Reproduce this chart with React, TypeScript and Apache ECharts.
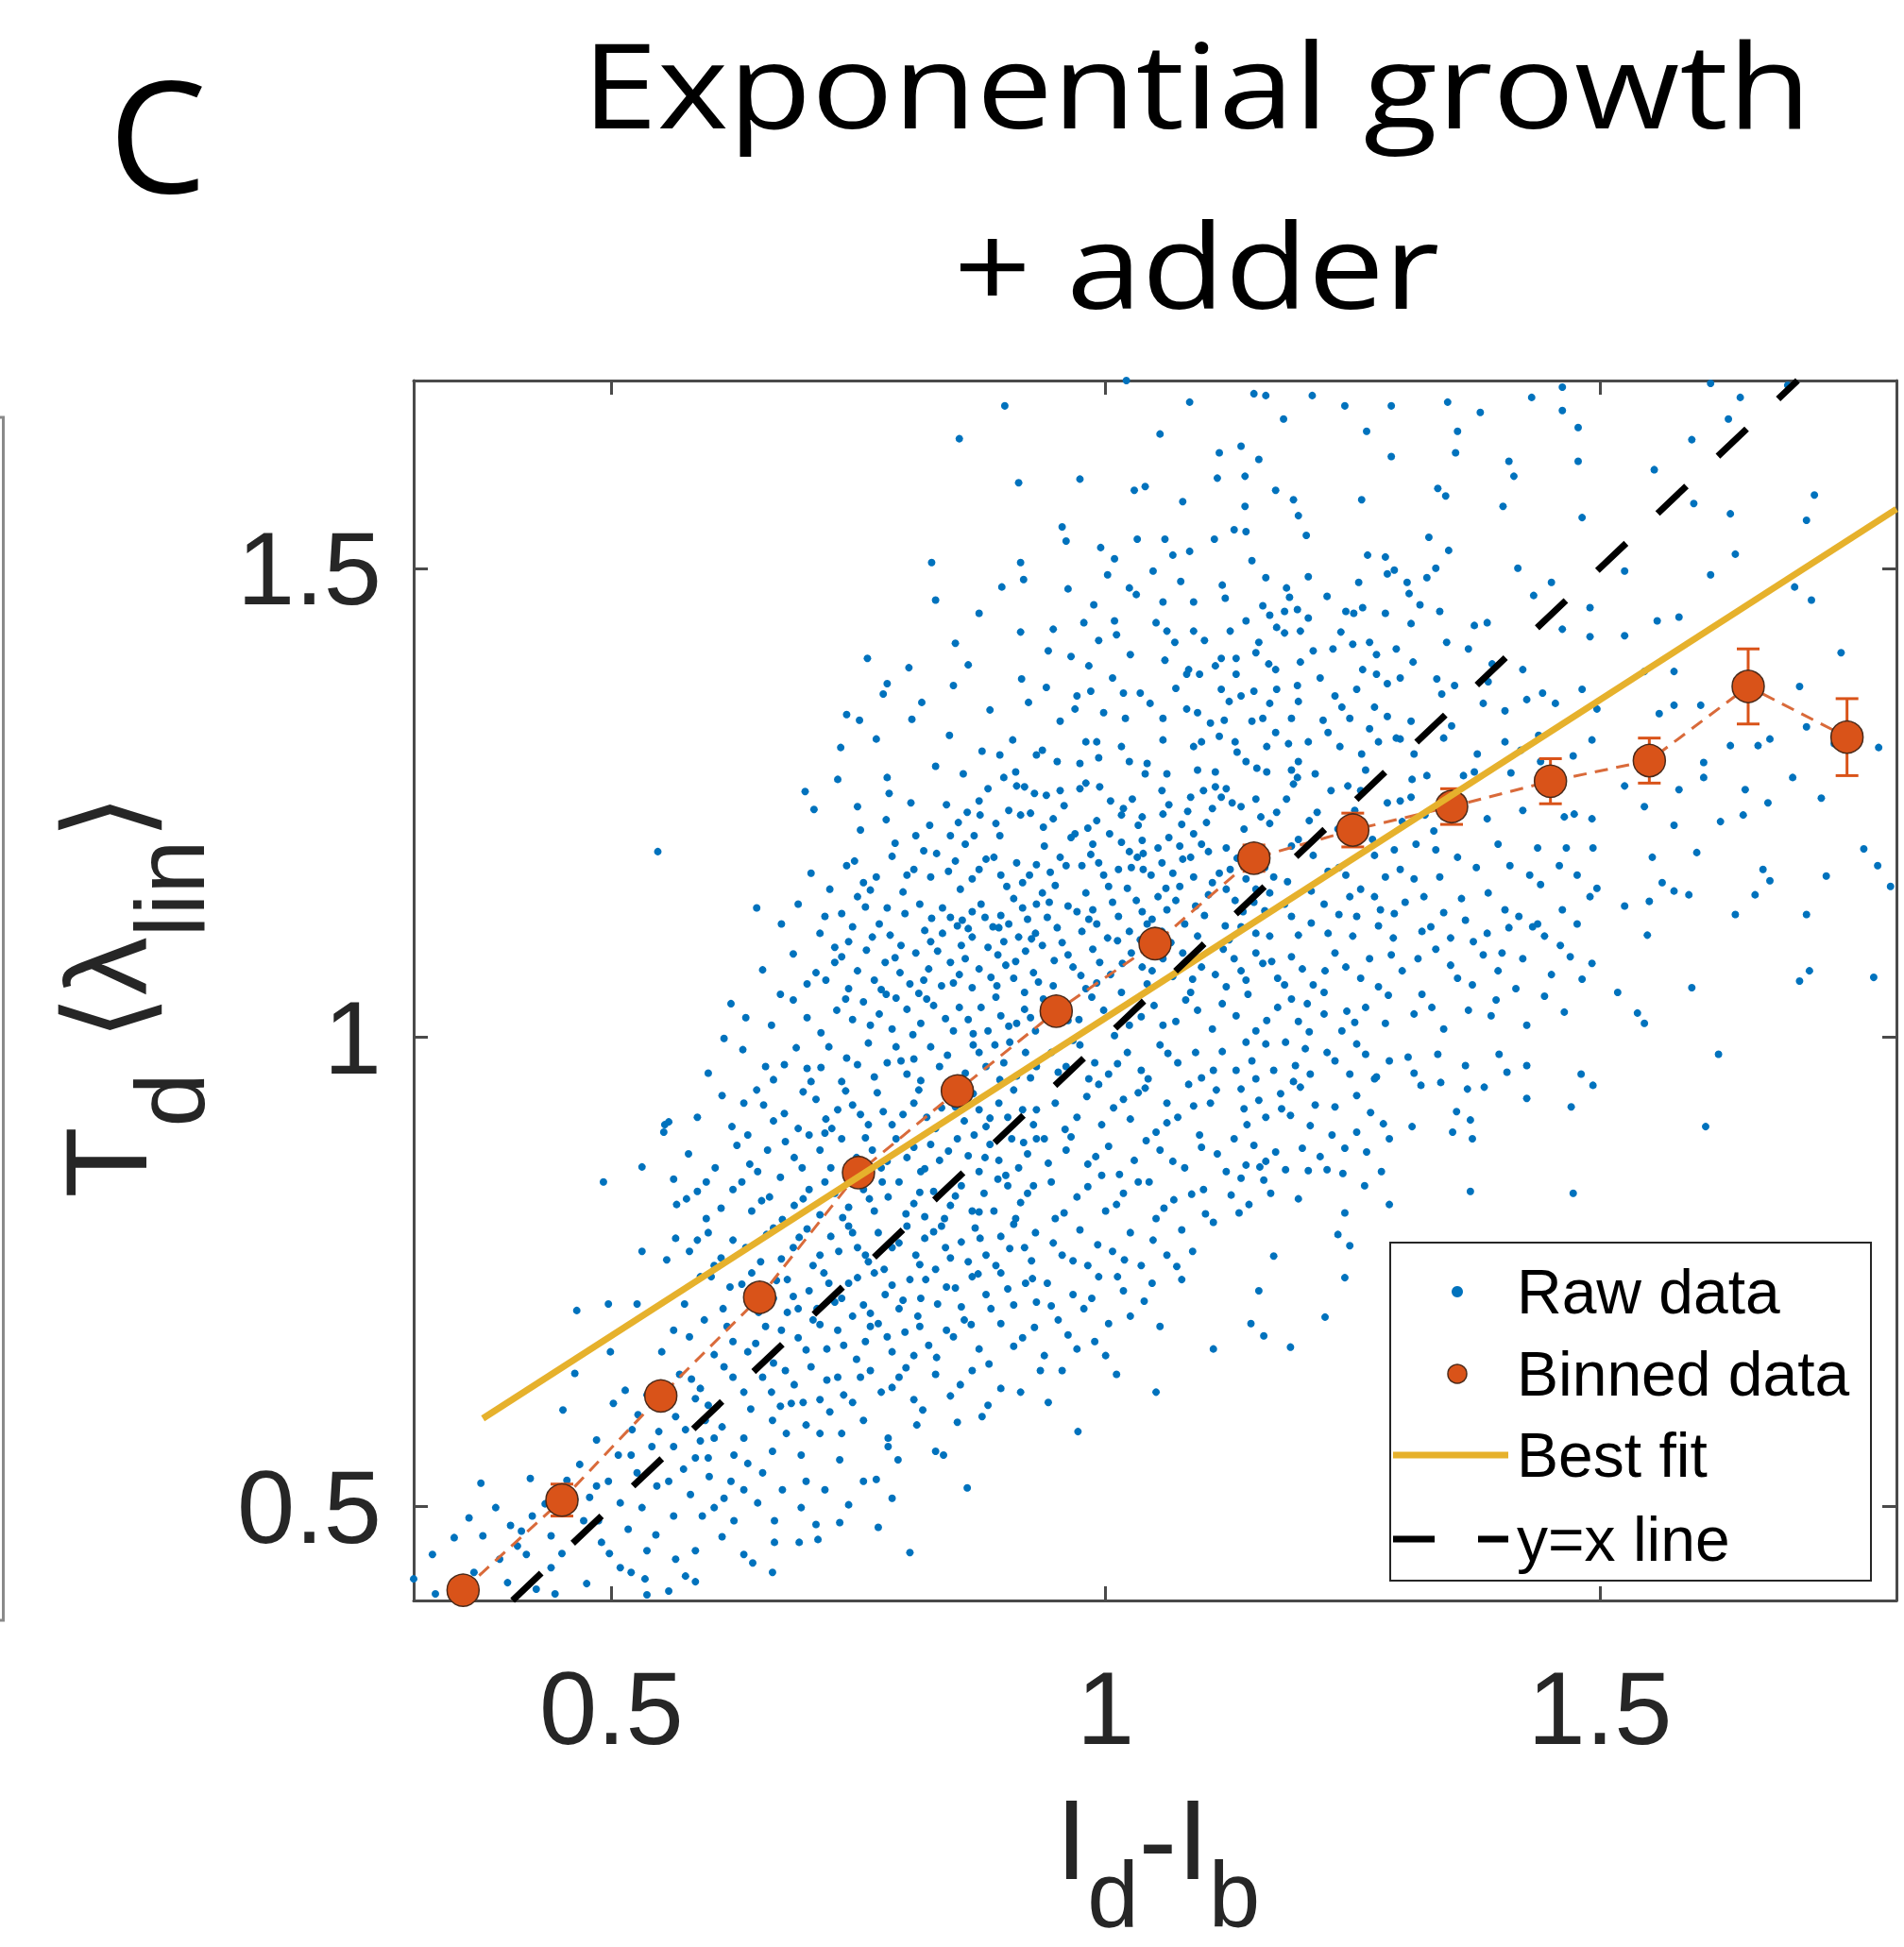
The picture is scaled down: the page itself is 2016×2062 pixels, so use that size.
import React, { useEffect, useRef } from "react";
import * as echarts from "echarts";

// ---------------- data ----------------
const X_MIN = 0.3;
const X_MAX = 1.8;
const Y_MIN = 0.4;
const Y_MAX = 1.7;
const X_TICKS = [0.5, 1, 1.5];
const Y_TICKS = [0.5, 1, 1.5];

const BIN_X = [0.35, 0.45, 0.55, 0.65, 0.75, 0.85, 0.95, 1.05, 1.15, 1.25, 1.35, 1.45, 1.55, 1.65, 1.75];
const BIN_Y = [0.411, 0.507, 0.618, 0.723, 0.856, 0.943, 1.028, 1.1, 1.191, 1.221, 1.246, 1.273, 1.295, 1.374, 1.32];
const BIN_ERR = [0.008, 0.017, 0.01, 0.009, 0.009, 0.009, 0.01, 0.012, 0.014, 0.018, 0.019, 0.024, 0.024, 0.04, 0.041];

const FIT_X = [0.37, 1.8];
const FIT_Y = [0.594, 1.563];
const IDENTITY_XY = [0.4, 1.7];

const LEGEND_LABELS = ["Raw data", "Binned data", "Best fit", "y=x line"];

// raw data, flat [x, y, x, y, ...] lists read region by region
const RAW_TOP_LEFT = [
  0.898,1.673, 0.852,1.638, 0.912,1.591, 0.824,1.506, 0.914,1.506, 0.917,1.488, 0.895,1.48, 0.914,1.432,
  0.848,1.42, 0.759,1.404, 0.801,1.394, 0.861,1.397, 0.915,1.382, 0.846,1.375, 0.779,1.377, 0.775,1.366,
  0.814,1.357, 0.804,1.339, 0.738,1.344, 0.751,1.338, 0.906,1.317, 0.893,1.301, 0.93,1.301, 0.729,1.275,
  0.779,1.277, 0.781,1.26, 0.803,1.25, 0.749,1.246, 0.705,1.243, 0.881,1.265, 0.897,1.277, 0.909,1.283,
  0.91,1.268, 0.918,1.267, 0.928,1.26, 0.86,1.24, 0.873,1.237, 0.889,1.228, 0.902,1.242, 0.914,1.237,
  0.924,1.239, 0.547,1.198, 0.787,1.207, 0.808,1.215, 0.816,1.199, 0.843,1.215, 0.858,1.206, 0.867,1.215,
];

const RAW_TOP_BAND = [
  1.021,1.7, 1.055,1.643, 1.15,1.686, 1.162,1.684, 1.209,1.684, 1.085,1.677, 1.242,1.673, 1.289,1.673,
  1.346,1.677, 1.379,1.666, 1.431,1.682, 1.462,1.693, 1.462,1.668, 1.612,1.697, 1.642,1.682, 1.69,1.695,
  1.18,1.659, 1.264,1.646, 1.356,1.646, 1.478,1.65, 1.63,1.659, 1.593,1.637, 1.115,1.623, 1.137,1.63,
  1.155,1.616, 1.289,1.619, 1.354,1.623, 1.408,1.614, 1.478,1.614, 1.555,1.605,
];

const RAW_UPPER_MID = [
  0.974,1.595, 1.029,1.583, 1.04,1.587, 1.113,1.596, 1.141,1.598, 1.141,1.566, 1.172,1.583, 1.19,1.573,
  1.259,1.573, 1.336,1.585, 1.344,1.577, 1.413,1.598, 1.402,1.566, 1.482,1.554, 1.078,1.571,
  0.956,1.544, 0.96,1.529, 1.06,1.531, 1.068,1.514, 1.11,1.531, 1.13,1.541, 1.142,1.539, 1.195,1.556,
  1.203,1.535, 1.327,1.533, 1.347,1.519, 1.009,1.51, 1.265,1.514, 1.283,1.512,
  1.002,1.493, 1.024,1.479, 1.058,1.464, 1.089,1.464, 1.205,1.491, 1.183,1.479, 1.186,1.469, 1.256,1.485,
  1.285,1.494, 1.292,1.498, 1.305,1.485, 1.307,1.473, 1.325,1.49, 1.334,1.5, 1.417,1.5, 1.451,1.485,
  1.433,1.471, 1.49,1.458, 1.338,1.454, 1.159,1.46, 1.166,1.45, 1.181,1.454, 1.194,1.456, 1.205,1.447,
  0.947,1.435, 0.978,1.442, 1.009,1.444, 1.011,1.429, 1.051,1.442, 1.062,1.433, 1.089,1.433, 1.1,1.423,
  1.126,1.433, 1.142,1.444, 1.155,1.421, 1.173,1.437, 1.181,1.431, 1.197,1.433, 1.243,1.454, 1.251,1.452,
  1.26,1.458, 1.23,1.414, 1.25,1.419, 1.267,1.421, 1.274,1.408, 1.294,1.414, 1.309,1.441, 1.345,1.421,
  1.367,1.414, 1.373,1.439, 1.386,1.442, 1.462,1.435, 1.49,1.427, 0.965,1.406, 0.983,1.396, 0.993,1.423,
  1.06,1.402, 1.084,1.392, 1.111,1.396, 1.117,1.404, 1.132,1.404, 1.152,1.41, 1.172,1.392, 1.21,1.412,
  1.311,1.4, 1.391,1.398, 1.422,1.392,
  0.94,1.373, 0.971,1.364, 0.969,1.35, 0.985,1.369, 1.007,1.383, 1.018,1.367, 1.035,1.367, 1.082,1.387,
  1.095,1.387, 1.132,1.387, 1.117,1.371, 1.137,1.364, 1.15,1.369, 1.166,1.356, 1.173,1.371, 1.194,1.375,
  1.195,1.358, 1.217,1.383, 1.232,1.364, 1.239,1.352, 1.254,1.371, 1.274,1.387, 1.285,1.377, 1.298,1.383,
  1.353,1.375, 1.34,1.366, 1.387,1.379, 1.426,1.36, 1.442,1.367, 1.482,1.371, 1.02,1.34, 1.058,1.34,
  1.082,1.35, 1.093,1.346, 1.106,1.335, 1.159,1.34, 1.148,1.337, 1.188,1.34, 1.247,1.34, 1.285,1.342,
  1.309,1.337, 1.382,1.356, 1.404,1.348, 1.455,1.356, 1.497,1.35,
  0.936,1.306, 0.98,1.315, 0.991,1.315, 0.993,1.298, 0.974,1.292, 0.951,1.294, 1.016,1.31, 1.024,1.294,
  1.042,1.292, 1.058,1.317, 1.089,1.31, 1.097,1.315, 1.115,1.321, 1.133,1.304, 1.142,1.294, 1.131,1.315,
  1.163,1.31, 1.185,1.313, 1.195,1.294, 1.205,1.315, 1.225,1.325, 1.237,1.31, 1.259,1.302, 1.267,1.329,
  1.276,1.315, 1.294,1.319, 1.312,1.302, 1.342,1.319, 1.376,1.302, 1.404,1.315, 1.42,1.306, 1.44,1.294,
  1.492,1.317, 1.473,1.3, 1.04,1.281, 1.062,1.281, 1.093,1.285, 1.111,1.283, 1.153,1.287, 1.163,1.283,
  1.188,1.285, 1.194,1.277, 1.212,1.281, 1.263,1.285, 1.325,1.279, 1.362,1.279, 1.373,1.283,
  0.94,1.258, 0.954,1.263, 0.974,1.265, 0.98,1.271, 0.994,1.267, 1.018,1.244, 1.027,1.254, 1.057,1.263,
  1.064,1.248, 1.086,1.256, 1.099,1.263, 1.111,1.267, 1.122,1.265, 1.117,1.256, 1.128,1.25, 1.108,1.244,
  1.137,1.246, 1.152,1.254, 1.157,1.235, 1.173,1.24, 1.183,1.254, 1.206,1.231, 1.214,1.24, 1.228,1.263,
  1.252,1.242, 1.258,1.263, 1.285,1.25, 1.298,1.252, 1.309,1.256, 1.323,1.237, 1.344,1.24, 1.354,1.233,
  1.386,1.233, 1.422,1.242, 1.464,1.235, 1.474,1.238, 1.492,1.233, 0.947,1.233, 0.969,1.217, 0.991,1.231,
  1.016,1.237, 1.037,1.235, 1.077,1.227, 1.089,1.217,
];

const RAW_MID_BAND = [
  0.938,1.204, 0.965,1.213, 0.987,1.206, 1.004,1.217, 1.016,1.208, 1.024,1.198, 1.037,1.21, 1.038,1.196,
  1.053,1.202, 1.064,1.213, 1.075,1.204, 1.078,1.19, 1.097,1.206, 1.104,1.198, 1.122,1.202, 1.188,1.204,
  1.195,1.211, 1.21,1.194, 1.236,1.181, 1.272,1.194, 1.292,1.2, 1.314,1.206, 1.334,1.2, 1.356,1.192,
  1.397,1.206, 1.437,1.202, 1.466,1.202, 1.493,1.202, 0.954,1.192, 0.96,1.183, 0.976,1.183, 0.993,1.186,
  0.998,1.173, 1.013,1.179, 1.026,1.181, 1.038,1.179, 1.046,1.173, 1.057,1.186, 1.068,1.175, 1.075,1.161,
  1.089,1.171, 1.115,1.175, 1.126,1.179, 1.142,1.169, 1.161,1.181, 1.17,1.171, 1.225,1.177, 1.243,1.173,
  1.283,1.171, 1.298,1.179, 1.312,1.169, 1.338,1.171, 1.375,1.181, 1.409,1.183, 1.429,1.173, 1.44,1.163,
  1.459,1.183, 1.477,1.173, 1.497,1.159,
  0.936,1.154, 0.943,1.144, 0.962,1.14, 0.971,1.134, 0.98,1.154, 0.987,1.136, 1.007,1.144, 1.013,1.129,
  1.022,1.159, 1.031,1.146, 1.037,1.134, 1.042,1.121, 1.053,1.15, 1.062,1.136, 1.071,1.146, 1.08,1.121,
  1.091,1.14, 1.104,1.152, 1.122,1.158, 1.131,1.146, 1.139,1.134, 1.15,1.144, 1.166,1.154, 1.181,1.142,
  1.188,1.129, 1.208,1.156, 1.221,1.142, 1.236,1.131, 1.247,1.15, 1.254,1.129, 1.272,1.15, 1.278,1.136,
  1.303,1.144, 1.322,1.15, 1.342,1.133, 1.36,1.148, 1.364,1.125, 1.387,1.154, 1.404,1.136, 1.418,1.129,
  1.437,1.121, 1.462,1.136, 1.49,1.15, 0.951,1.117, 0.976,1.113, 0.991,1.121, 1.002,1.106, 1.024,1.113,
  1.035,1.104, 1.057,1.113, 1.093,1.108, 1.121,1.119, 1.125,1.104, 1.152,1.111, 1.166,1.108, 1.195,1.109,
  1.225,1.111, 1.25,1.108, 1.276,1.119, 1.291,1.106, 1.32,1.113, 1.349,1.106, 1.386,1.111, 1.408,1.117,
  1.444,1.108, 1.477,1.121,
  0.936,1.098, 0.962,1.088, 0.967,1.075, 0.987,1.094, 0.994,1.08, 1.005,1.067, 1.026,1.09, 1.037,1.075,
  1.058,1.084, 1.068,1.065, 1.078,1.09, 1.097,1.075, 1.111,1.067, 1.13,1.084, 1.137,1.071, 1.152,1.09,
  1.159,1.079, 1.174,1.063, 1.188,1.086, 1.199,1.073, 1.21,1.056, 1.232,1.09, 1.243,1.075, 1.258,1.063,
  1.267,1.084, 1.289,1.088, 1.3,1.071, 1.316,1.084, 1.334,1.094, 1.349,1.077, 1.356,1.063, 1.382,1.088,
  1.397,1.071, 1.422,1.084, 1.451,1.067, 1.47,1.086, 1.492,1.079, 0.947,1.055, 0.98,1.052, 1.016,1.048,
  1.042,1.057, 1.086,1.048, 1.122,1.054, 1.144,1.046, 1.181,1.056, 1.221,1.048, 1.276,1.054, 1.32,1.046,
  1.371,1.056, 1.415,1.052, 1.444,1.044,
  0.954,1.032, 0.973,1.019, 0.998,1.029, 1.024,1.013, 1.049,1.034, 1.071,1.017, 1.093,1.029, 1.108,1.009,
  1.132,1.023, 1.152,1.007, 1.174,1.032, 1.195,1.017, 1.221,1.025, 1.239,1.007, 1.263,1.032, 1.283,1.015,
  1.312,1.025, 1.342,1.009, 1.367,1.029, 1.395,1.04, 1.426,1.013, 1.464,1.027,
];

const RAW_RIGHT = [
  1.595,1.569, 1.632,1.558, 1.717,1.578, 1.709,1.551, 1.637,1.515, 1.612,1.493, 1.525,1.497, 1.697,1.48,
  1.714,1.466, 1.558,1.444, 1.58,1.448, 1.525,1.428, 1.744,1.41, 1.545,1.39, 1.575,1.39, 1.702,1.374,
  1.575,1.354, 1.602,1.354, 1.56,1.345, 1.709,1.331, 1.672,1.318, 1.66,1.311, 1.632,1.311, 1.605,1.293,
  1.782,1.309, 1.737,1.313, 1.525,1.268, 1.58,1.264, 1.605,1.277, 1.695,1.277, 1.647,1.264, 1.724,1.255,
  1.545,1.246, 1.575,1.226, 1.622,1.23, 1.645,1.237, 1.67,1.25, 1.767,1.201, 1.781,1.183, 1.598,1.197,
  1.553,1.192, 1.665,1.179, 1.672,1.167, 1.729,1.172, 1.563,1.165, 1.575,1.156, 1.59,1.152, 1.657,1.152,
  1.55,1.145, 1.525,1.14, 1.637,1.131, 1.709,1.131, 1.794,1.161, 1.548,1.109, 1.702,1.06, 1.712,1.071,
  1.777,1.064, 1.593,1.053, 1.538,1.026, 1.545,1.015, 1.518,1.048,
];

const RAW_CORE = [
  0.738,1.183, 0.755,1.165, 0.799,1.173, 0.806,1.179, 0.823,1.171, 0.841,1.177, 0.848,1.188, 0.865,1.169,
  0.872,1.179, 0.887,1.192, 0.894,1.173, 0.91,1.186, 0.916,1.165, 0.923,1.173, 0.93,1.184,
  0.647,1.138, 0.733,1.132, 0.749,1.15, 0.762,1.157, 0.779,1.138, 0.812,1.142, 0.824,1.127, 0.835,1.138,
  0.855,1.125, 0.865,1.134, 0.874,1.142, 0.878,1.128, 0.886,1.118, 0.894,1.13, 0.907,1.148, 0.916,1.138,
  0.921,1.126, 0.93,1.142,
  0.711,1.111, 0.726,1.096, 0.74,1.102, 0.764,1.107, 0.782,1.109, 0.793,1.098, 0.808,1.09, 0.823,1.102,
  0.835,1.111, 0.85,1.119, 0.854,1.098, 0.865,1.107, 0.881,1.096, 0.892,1.117, 0.897,1.102, 0.912,1.107,
  0.919,1.092, 0.929,1.111,
  0.671,1.046, 0.707,1.069, 0.717,1.061, 0.726,1.08, 0.74,1.052, 0.749,1.071, 0.766,1.061, 0.777,1.08,
  0.792,1.069, 0.802,1.057, 0.811,1.047, 0.821,1.073, 0.834,1.055, 0.843,1.08, 0.852,1.067, 0.865,1.053,
  0.872,1.073, 0.884,1.064, 0.89,1.055, 0.899,1.077, 0.907,1.063, 0.918,1.048, 0.927,1.069,
  0.636,1.021, 0.698,1.021, 0.728,1.029, 0.744,1.019, 0.755,1.038, 0.771,1.025, 0.784,1.009, 0.799,1.03,
  0.813,1.015, 0.826,1.034, 0.838,1.02, 0.846,1.007, 0.861,1.019, 0.874,1.032, 0.881,1.007, 0.894,1.023,
  0.91,1.015, 0.918,1.03, 0.929,1.007, 0.788,1.042,
  0.614,0.999, 0.656,0.969, 0.675,0.971, 0.698,0.967, 0.702,0.953, 0.72,0.99, 0.733,0.953, 0.749,0.971,
  0.76,0.994, 0.779,0.973, 0.788,0.99, 0.799,0.961, 0.806,0.977, 0.823,0.99, 0.832,0.969, 0.843,0.953,
  0.872,0.984, 0.879,0.969, 0.888,0.992, 0.897,0.973, 0.91,0.959, 0.919,0.984, 0.93,0.969,
  0.554,0.907, 0.634,0.93, 0.647,0.944, 0.654,0.928, 0.675,0.919, 0.689,0.903, 0.707,0.934, 0.717,0.913,
  0.729,0.923, 0.744,0.928, 0.76,0.907, 0.775,0.921, 0.784,0.907, 0.806,0.93, 0.819,0.915, 0.828,0.903,
  0.848,0.926, 0.857,0.911, 0.872,0.923, 0.879,0.905, 0.892,0.93, 0.901,0.915, 0.916,0.923, 0.927,0.907,
  0.563,0.849, 0.596,0.846, 0.64,0.865, 0.638,0.896, 0.658,0.88, 0.671,0.851, 0.685,0.872, 0.7,0.896,
  0.711,0.88, 0.722,0.861, 0.733,0.892, 0.748,0.872, 0.764,0.88, 0.773,0.861, 0.788,0.892, 0.799,0.872,
  0.813,0.857, 0.823,0.886, 0.832,0.869, 0.85,0.892, 0.861,0.874, 0.872,0.857, 0.883,0.886, 0.892,0.869,
  0.905,0.892, 0.912,0.861, 0.921,0.876, 0.93,0.892,
  0.576,0.828, 0.596,0.807, 0.623,0.838, 0.642,0.815, 0.66,0.83, 0.685,0.821, 0.7,0.838, 0.711,0.811,
  0.726,0.834, 0.74,0.819, 0.755,0.838, 0.766,0.815, 0.78,0.83, 0.791,0.846, 0.806,0.823, 0.817,0.809,
  0.826,0.836, 0.843,0.821, 0.854,0.842, 0.865,0.815, 0.877,0.834, 0.887,0.815, 0.901,0.842, 0.914,0.824,
  0.927,0.842,
  0.565,0.786, 0.579,0.772, 0.598,0.792, 0.611,0.765, 0.623,0.784, 0.651,0.761, 0.664,0.797, 0.684,0.776,
  0.698,0.796, 0.711,0.768, 0.722,0.788, 0.74,0.799, 0.749,0.776, 0.76,0.761, 0.77,0.792, 0.784,0.776,
  0.799,0.799, 0.808,0.768, 0.817,0.786, 0.834,0.799, 0.843,0.765, 0.854,0.782, 0.868,0.797, 0.879,0.768,
  0.894,0.788, 0.907,0.801, 0.918,0.776, 0.929,0.792,
  0.59,0.745, 0.62,0.734, 0.642,0.749, 0.664,0.722, 0.678,0.742, 0.689,0.711, 0.7,0.73, 0.715,0.749,
  0.726,0.718, 0.74,0.738, 0.755,0.715, 0.766,0.749, 0.777,0.726, 0.791,0.711, 0.802,0.742, 0.813,0.722,
  0.828,0.753, 0.839,0.734, 0.854,0.713, 0.865,0.745, 0.879,0.726, 0.894,0.749, 0.907,0.715, 0.919,0.738,
  0.93,0.718,
  0.563,0.688, 0.594,0.699, 0.623,0.676, 0.638,0.665, 0.656,0.692, 0.678,0.707, 0.689,0.68, 0.704,0.699,
  0.718,0.668, 0.729,0.688, 0.744,0.703, 0.757,0.676, 0.77,0.695, 0.784,0.665, 0.797,0.686, 0.81,0.703,
  0.821,0.672, 0.839,0.688, 0.857,0.699, 0.872,0.668, 0.894,0.695, 0.916,0.68,
  0.569,0.641, 0.59,0.626, 0.614,0.649, 0.634,0.622, 0.653,0.638, 0.671,0.607, 0.685,0.63, 0.702,0.649,
  0.711,0.614, 0.729,0.638, 0.744,0.611, 0.762,0.645, 0.773,0.622, 0.791,0.638, 0.806,0.614, 0.828,0.641,
  0.843,0.618, 0.865,0.645, 0.894,0.626, 0.934,0.645, 0.956,0.645, 1.011,0.641, 1.051,0.622,
];

const RAW_CORE_RIGHT = [
  0.945,0.984, 0.96,0.969, 0.974,0.992, 0.989,0.973, 1.003,0.961, 1.022,0.984, 1.036,0.965, 1.055,0.992,
  1.073,0.973, 1.091,0.984, 1.109,0.965, 0.993,0.95, 1.018,0.934, 1.04,0.946, 1.062,0.93, 1.084,0.95,
  1.106,0.93, 0.949,0.93, 0.971,0.915, 0.996,0.907, 1.025,0.913, 1.051,0.899, 1.073,0.915, 1.095,0.896,
  0.938,0.892, 0.96,0.88, 0.982,0.865, 1.003,0.884, 1.029,0.869, 1.055,0.88, 1.08,0.861, 1.113,0.876,
  0.945,0.846, 0.971,0.83, 0.996,0.853, 1.018,0.834, 1.044,0.846, 1.069,0.827, 1.099,0.838, 0.949,0.807,
  0.974,0.795, 1.0,0.815, 1.025,0.792, 1.051,0.807, 1.077,0.795, 1.109,0.803, 0.956,0.768, 0.982,0.757,
  1.007,0.772, 1.036,0.757, 1.062,0.768, 1.088,0.772, 0.941,0.738, 0.967,0.726, 0.993,0.745, 1.018,0.73,
  1.047,0.738, 1.077,0.742, 0.952,0.699, 0.978,0.711, 1.003,0.695, 1.025,0.703, 1.055,0.692, 1.109,0.668,
  0.971,0.668, 1.0,0.661, 0.938,0.661,
];

const RAW_LOWER_LEFT = [
  0.3,0.423, 0.319,0.449, 0.322,0.407, 0.341,0.467, 0.37,0.469, 0.356,0.488, 0.368,0.525, 0.383,0.499,
  0.387,0.444, 0.409,0.474, 0.414,0.449, 0.424,0.412, 0.443,0.407, 0.395,0.419, 0.439,0.469, 0.451,0.603,
  0.463,0.642, 0.465,0.709, 0.485,0.571, 0.49,0.462, 0.502,0.61, 0.497,0.527, 0.507,0.555, 0.509,0.504,
  0.517,0.476, 0.521,0.582, 0.526,0.536, 0.531,0.499, 0.534,0.423, 0.536,0.406, 0.536,0.619, 0.536,0.453,
  0.541,0.564, 0.546,0.522, 0.499,0.665, 0.497,0.716, 0.526,0.716, 0.531,0.772, 0.531,0.862, 0.492,0.846,
  0.558,0.91, 0.553,0.899, 0.514,0.624, 0.487,0.485, 0.509,0.435, 0.468,0.545, 0.485,0.522, 0.405,0.458,
  0.439,0.435, 0.463,0.508,
  0.565,0.596, 0.575,0.582, 0.595,0.592, 0.563,0.564, 0.585,0.552, 0.604,0.573, 0.624,0.555, 0.558,0.527,
  0.58,0.513, 0.599,0.532, 0.614,0.509, 0.634,0.518, 0.638,0.546, 0.663,0.559, 0.677,0.578, 0.692,0.555,
  0.711,0.578, 0.733,0.578, 0.697,0.527, 0.665,0.485, 0.665,0.462, 0.69,0.462, 0.709,0.465, 0.731,0.483,
  0.643,0.44, 0.624,0.485, 0.575,0.426, 0.563,0.49, 0.585,0.453, 0.565,0.444, 0.604,0.499, 0.768,0.529,
  0.802,0.451, 0.836,0.555, 0.875,0.596, 0.972,0.58, 0.648,0.504, 0.78,0.564,
];

const RAW_LOWER_RIGHT = [
  1.142,0.995, 1.162,0.993, 1.182,0.995, 1.202,0.988, 1.224,0.984, 1.254,0.993, 1.287,0.975, 1.306,0.979,
  1.336,0.982, 1.364,0.97, 1.398,0.982, 1.426,0.97, 1.62,0.982, 1.132,0.965, 1.152,0.956, 1.17,0.965,
  1.192,0.97, 1.207,0.961, 1.232,0.975, 1.247,0.961, 1.272,0.956, 1.274,0.958, 1.319,0.949, 1.339,0.952,
  1.366,0.945, 1.383,0.947, 1.406,0.963, 1.426,0.935, 1.481,0.961, 1.493,0.949, 1.471,0.926, 1.137,0.945,
  1.155,0.933, 1.177,0.94, 1.197,0.947, 1.212,0.928, 1.232,0.926, 1.254,0.938, 1.14,0.924, 1.162,0.915,
  1.187,0.917, 1.207,0.906, 1.229,0.896, 1.254,0.899, 1.281,0.908, 1.351,0.899, 1.369,0.912, 1.371,0.892,
  1.607,0.905, 1.13,0.892, 1.15,0.885, 1.172,0.878, 1.199,0.882, 1.217,0.873, 1.242,0.882, 1.264,0.878,
  1.287,0.892, 1.142,0.864, 1.162,0.868, 1.137,0.85, 1.16,0.848, 1.182,0.859, 1.224,0.859, 1.24,0.855,
  1.279,0.857, 1.127,0.832, 1.145,0.822, 1.167,0.834, 1.242,0.813, 1.287,0.822, 1.369,0.836, 1.473,0.834,
  1.135,0.813, 1.17,0.767, 1.247,0.778, 1.242,0.744, 1.222,0.702, 1.155,0.73, 1.147,0.695, 1.16,0.682,
  1.187,0.67,
];

// additional dots read in the densest parts of the cloud
const RAW_DENSE_EXTRA = [
  0.752,1.221, 0.778,1.232, 0.822,1.226, 0.839,1.248, 0.872,1.252, 0.851,1.229, 0.893,1.215, 0.937,1.224,
  0.958,1.247, 0.982,1.223, 1.005,1.252, 1.033,1.226, 1.058,1.238, 1.083,1.241, 1.102,1.229, 1.14,1.222,
  1.166,1.228, 0.696,1.262, 0.732,1.309, 0.768,1.318, 0.828,1.289, 0.856,1.281, 0.875,1.305, 0.842,1.322,
  0.883,1.349, 0.922,1.357, 0.954,1.337, 0.998,1.346, 1.045,1.356, 1.071,1.372, 1.125,1.358, 0.942,1.412,
  0.988,1.461, 1.031,1.472, 1.076,1.486, 1.118,1.482, 1.148,1.508, 1.032,1.531, 0.872,1.452, 0.828,1.466,
  0.702,1.175, 0.721,1.158, 0.746,1.188, 0.768,1.171, 0.784,1.193, 0.795,1.155, 0.829,1.196, 0.853,1.158,
  0.879,1.19, 0.9,1.161, 0.944,1.176, 0.949,1.162, 0.985,1.195, 1.003,1.161, 1.032,1.192, 1.061,1.159,
  1.086,1.192, 1.108,1.165, 1.133,1.191, 1.152,1.158, 1.184,1.166,
  0.672,1.121, 0.689,1.142, 0.716,1.129, 0.744,1.118, 0.757,1.139, 0.771,1.121, 0.797,1.132, 0.817,1.114,
  0.843,1.128, 0.861,1.116, 0.902,1.121, 0.925,1.105, 0.941,1.128, 0.956,1.101, 0.983,1.126, 1.012,1.103,
  1.047,1.126, 1.066,1.101, 1.1,1.13, 1.137,1.118, 1.161,1.135, 1.208,1.122,
  0.653,1.072, 0.684,1.089, 0.698,1.057, 0.733,1.086, 0.758,1.093, 0.773,1.051, 0.787,1.085, 0.816,1.061,
  0.83,1.092, 0.846,1.058, 0.858,1.084, 0.891,1.088, 0.909,1.081, 0.932,1.059, 0.948,1.082, 0.975,1.066,
  0.991,1.058, 1.017,1.079, 1.047,1.071, 1.062,1.096, 1.088,1.062, 1.119,1.094, 1.142,1.061, 1.168,1.081,
  1.222,1.071,
  0.621,1.036, 0.662,1.013, 0.684,1.04, 0.712,1.005, 0.737,1.041, 0.762,1.013, 0.778,1.046, 0.805,1.003,
  0.819,1.041, 0.852,1.032, 0.866,1.004, 0.889,1.043, 0.902,1.012, 0.924,1.021, 0.937,1.041, 0.962,1.018,
  0.986,1.043, 1.009,1.002, 1.036,1.022, 1.058,1.013, 1.081,1.04, 1.118,1.036, 1.163,1.018, 1.204,1.036,
  1.252,1.016,
  0.598,0.962, 0.633,0.987, 0.664,0.955, 0.687,0.989, 0.712,0.968, 0.738,0.978, 0.766,0.958, 0.793,0.975,
  0.813,0.954, 0.84,0.981, 0.858,0.962, 0.866,0.992, 0.893,0.955, 0.903,0.995, 0.924,0.957, 0.952,0.963,
  0.967,0.997, 0.983,0.956, 1.012,0.972, 1.043,0.956, 1.063,0.983, 1.097,0.957, 1.118,0.985, 1.148,0.975,
  1.19,0.953,
  0.587,0.915, 0.612,0.938, 0.622,0.905, 0.664,0.911, 0.694,0.942, 0.723,0.903, 0.737,0.943, 0.752,0.918,
  0.769,0.941, 0.795,0.918, 0.811,0.944, 0.834,0.925, 0.866,0.94, 0.883,0.914, 0.907,0.944, 0.93,0.923,
  0.959,0.902, 0.981,0.937, 1.008,0.925, 1.033,0.941, 1.062,0.909, 1.089,0.927, 1.112,0.944, 1.143,0.907,
  1.178,0.924,
  0.578,0.876, 0.605,0.861, 0.627,0.885, 0.648,0.857, 0.676,0.889, 0.693,0.861, 0.716,0.898, 0.741,0.856,
  0.757,0.893, 0.779,0.868, 0.806,0.883, 0.817,0.86, 0.841,0.879, 0.867,0.896, 0.878,0.872, 0.899,0.853,
  0.917,0.888, 0.942,0.866, 0.965,0.894, 0.99,0.873, 1.014,0.854, 1.041,0.89, 1.068,0.868, 1.097,0.883,
  1.122,0.857, 1.156,0.862,
  0.566,0.822, 0.587,0.836, 0.611,0.818, 0.632,0.846, 0.652,0.826, 0.673,0.806, 0.694,0.828, 0.716,0.846,
  0.734,0.808, 0.761,0.828, 0.774,0.846, 0.798,0.812, 0.812,0.835, 0.837,0.807, 0.848,0.831, 0.872,0.814,
  0.891,0.849, 0.909,0.807, 0.921,0.834, 0.958,0.813, 0.982,0.841, 1.011,0.822, 1.033,0.846, 1.059,0.818,
  1.087,0.833, 1.101,0.812,
  0.556,0.763, 0.587,0.784, 0.604,0.757, 0.636,0.776, 0.657,0.79, 0.672,0.764, 0.69,0.787, 0.704,0.757,
  0.73,0.772, 0.744,0.792, 0.757,0.768, 0.776,0.753, 0.791,0.781, 0.812,0.758, 0.826,0.793, 0.838,0.776,
  0.861,0.761, 0.873,0.786, 0.889,0.757, 0.903,0.775, 0.925,0.762, 0.947,0.781, 0.967,0.762, 0.992,0.779,
  1.019,0.763, 1.048,0.784, 1.072,0.756,
  0.574,0.716, 0.601,0.745, 0.613,0.711, 0.632,0.737, 0.649,0.707, 0.667,0.741, 0.684,0.724, 0.708,0.711,
  0.72,0.738, 0.733,0.722, 0.749,0.744, 0.762,0.706, 0.784,0.736, 0.795,0.72, 0.818,0.742, 0.83,0.716,
  0.848,0.733, 0.871,0.748, 0.884,0.711, 0.901,0.732, 0.926,0.743, 0.945,0.714, 0.986,0.722, 1.012,0.745,
  1.039,0.719,
  0.551,0.665, 0.579,0.681, 0.604,0.662, 0.617,0.692, 0.646,0.674, 0.664,0.653, 0.672,0.688, 0.697,0.667,
  0.711,0.694, 0.735,0.672, 0.748,0.657, 0.762,0.692, 0.779,0.681, 0.806,0.661, 0.812,0.692, 0.829,0.659,
  0.846,0.681, 0.864,0.694, 0.882,0.652, 0.907,0.671, 0.928,0.691, 0.962,0.683, 0.989,0.676,
  0.555,0.621, 0.581,0.636, 0.598,0.608, 0.623,0.638, 0.641,0.604, 0.662,0.622, 0.676,0.645, 0.694,0.611,
  0.718,0.635, 0.735,0.619, 0.752,0.638, 0.784,0.627, 0.798,0.648, 0.815,0.603, 0.853,0.63, 0.881,0.608,
  0.914,0.622, 0.942,0.611,
  0.682,0.61, 0.663,0.592, 0.697,0.587, 0.721,0.601, 0.755,0.592, 0.78,0.573, 0.809,0.587, 0.828,0.559,
  0.731,0.55, 0.755,0.527, 0.716,0.518, 0.784,0.509, 0.585,0.615, 0.634,0.573, 0.653,0.536, 0.673,0.518,
  0.692,0.499, 0.707,0.481, 0.634,0.449, 0.663,0.43, 0.59,0.57, 0.612,0.585, 0.548,0.58, 0.527,0.598,
  0.52,0.555, 0.573,0.54, 0.598,0.552, 0.621,0.527, 0.612,0.468, 0.592,0.49, 0.545,0.47, 0.472,0.485,
  0.455,0.528, 0.478,0.51, 0.433,0.503, 0.418,0.53, 0.45,0.45, 0.475,0.418, 0.498,0.45, 0.52,0.43,
  0.558,0.41, 0.585,0.42, 0.361,0.43, 0.345,0.412, 0.398,0.48, 0.42,0.49, 0.74,0.502, 0.77,0.478,
  0.79,0.55, 0.85,0.59, 0.86,0.52,
  0.962,1.478, 0.995,1.522, 1.048,1.497, 1.085,1.518, 1.121,1.468, 1.162,1.49, 1.224,1.47, 1.238,1.432,
  1.283,1.452, 1.318,1.461, 1.025,1.408, 1.07,1.421, 1.165,1.398, 1.197,1.4, 1.26,1.392, 1.335,1.382,
  1.12,1.338, 1.172,1.325, 1.22,1.338, 1.272,1.352, 1.298,1.318, 1.35,1.332, 1.41,1.282, 1.438,1.322,
  1.31,1.275, 1.35,1.26, 1.245,1.268, 1.19,1.27, 1.235,1.222, 1.27,1.211, 1.3,1.23, 1.332,1.22,
  1.258,1.158, 1.292,1.132, 1.329,1.118, 1.372,1.102, 1.401,1.09, 1.432,1.118, 1.46,1.098, 1.482,1.062,
  1.39,1.023, 1.33,1.032, 1.286,1.045, 1.244,1.028, 1.188,1.041, 1.206,1.006, 1.263,0.982, 1.312,0.962,
  1.355,0.921, 1.31,0.905, 1.268,0.92, 1.205,0.858, 1.195,0.828, 1.262,0.842, 1.235,0.79,
];

// ---------------- helpers ----------------
function toPairs(flat: number[]): number[][] {
  const out: number[][] = [];
  for (let i = 0; i + 1 < flat.length; i += 2) out.push([flat[i], flat[i + 1]]);
  return out;
}

const RAW_POINTS = [
  ...toPairs(RAW_TOP_LEFT),
  ...toPairs(RAW_TOP_BAND),
  ...toPairs(RAW_UPPER_MID),
  ...toPairs(RAW_MID_BAND),
  ...toPairs(RAW_RIGHT),
  ...toPairs(RAW_CORE),
  ...toPairs(RAW_CORE_RIGHT),
  ...toPairs(RAW_LOWER_LEFT),
  ...toPairs(RAW_LOWER_RIGHT),
  ...toPairs(RAW_DENSE_EXTRA),
];

const BLUE = "#0072BD";
const ORANGE = "#D95319";
const YELLOW = "#E6B12C";
const AXIS = "#4a4a4a";
const TXT = "#262626";
const SANS = "'Liberation Sans', Arial, Helvetica, sans-serif";
const TITLE_FONT = "'Open Sans', 'Noto Sans', sans-serif";

export default function App() {
  const ref = useRef<HTMLDivElement>(null);

  useEffect(() => {
    document.body.style.margin = "0";
    if (!ref.current) return;
    const chart = echarts.init(ref.current, undefined, { renderer: "svg" });

    const binned = BIN_X.map((x, i) => [x, BIN_Y[i]]);
    const errData = BIN_X.map((x, i) => [x, BIN_Y[i] - BIN_ERR[i], BIN_Y[i] + BIN_ERR[i]]);
    const fitData = FIT_X.map((x, i) => [x, FIT_Y[i]]);
    const idData = IDENTITY_XY.map((v) => [v, v]);

    const axisCommon = {
      type: "value" as const,
      splitLine: { show: false },
      axisLine: { show: true, onZero: false, lineStyle: { color: AXIS, width: 3 } },
    };
    const tickStyle = (vals: number[]) => ({
      show: true,
      inside: true,
      length: 15,
      customValues: vals,
      lineStyle: { color: AXIS, width: 3 },
    });

    // legend geometry (layout only)
    const LX = 1472, LY = 1316, LW = 509, LH = 358;
    const rowY = [1368, 1455, 1541, 1630];
    const iconX = 1543;
    const textX = 1606;

    const legendChildren: any[] = [
      {
        type: "rect",
        shape: { x: LX, y: LY, width: LW, height: LH },
        style: { fill: "#fff", stroke: "#262626", lineWidth: 2 },
      },
      { type: "circle", shape: { cx: iconX, cy: rowY[0], r: 6 }, style: { fill: BLUE } },
      {
        type: "circle",
        shape: { cx: iconX, cy: rowY[1], r: 10 },
        style: { fill: ORANGE, stroke: "#4a2a1a", lineWidth: 1.5 },
      },
      {
        type: "line",
        shape: { x1: 1475, y1: rowY[2], x2: 1597, y2: rowY[2] },
        style: { stroke: YELLOW, lineWidth: 7 },
      },
      {
        type: "line",
        shape: { x1: 1475, y1: rowY[3], x2: 1597, y2: rowY[3] },
        style: { stroke: "#000", lineWidth: 7, lineDash: [44, 46] },
      },
    ];
    LEGEND_LABELS.forEach((label, i) => {
      legendChildren.push({
        type: "text",
        x: textX,
        y: rowY[i],
        style: {
          text: label,
          fontSize: 66,
          fontFamily: SANS,
          fill: "#000",
          align: "left",
          verticalAlign: "middle",
          textAlign: "left",
          textVerticalAlign: "middle",
        },
      });
    });

    const titleStyle = (text: string) => ({
      text,
      fontSize: 125,
      lineHeight: 125,
      fontFamily: TITLE_FONT,
      fill: "#000",
      align: "center",
      verticalAlign: "middle",
      textAlign: "center",
      textVerticalAlign: "middle",
    });

    const option: any = {
      animation: false,
      backgroundColor: "#ffffff",
      grid: { left: 438, top: 403, width: 1570, height: 1292, containLabel: false },
      xAxis: [
        {
          ...axisCommon,
          min: X_MIN,
          max: X_MAX,
          position: "bottom",
          axisTick: tickStyle(X_TICKS),
          axisLabel: {
            show: true,
            customValues: X_TICKS,
            margin: 58,
            fontSize: 110,
            fontFamily: SANS,
            color: TXT,
          },
        },
        {
          ...axisCommon,
          min: X_MIN,
          max: X_MAX,
          position: "top",
          axisTick: tickStyle(X_TICKS),
          axisLabel: { show: false },
        },
      ],
      yAxis: [
        {
          ...axisCommon,
          min: Y_MIN,
          max: Y_MAX,
          position: "left",
          axisTick: tickStyle(Y_TICKS),
          axisLabel: {
            show: true,
            customValues: Y_TICKS,
            margin: 34,
            fontSize: 110,
            fontFamily: SANS,
            color: TXT,
          },
        },
        {
          ...axisCommon,
          min: Y_MIN,
          max: Y_MAX,
          position: "right",
          axisTick: tickStyle(Y_TICKS),
          axisLabel: { show: false },
        },
      ],
      series: [
        {
          name: "Raw data",
          type: "scatter",
          data: RAW_POINTS,
          symbol: "circle",
          symbolSize: 8,
          itemStyle: { color: BLUE, opacity: 1 },
          silent: true,
          z: 1,
        },
        {
          name: "errorbars",
          type: "custom",
          data: errData,
          encode: { x: 0, y: [1, 2] },
          silent: true,
          z: 2,
          renderItem: (params: any, api: any) => {
            const x = api.value(0);
            const lo = api.coord([x, api.value(1)]);
            const hi = api.coord([x, api.value(2)]);
            const hw = 12;
            const st = { stroke: ORANGE, lineWidth: 3 };
            return {
              type: "group",
              children: [
                { type: "line", shape: { x1: lo[0], y1: lo[1], x2: hi[0], y2: hi[1] }, style: st },
                { type: "line", shape: { x1: lo[0] - hw, y1: lo[1], x2: lo[0] + hw, y2: lo[1] }, style: st },
                { type: "line", shape: { x1: hi[0] - hw, y1: hi[1], x2: hi[0] + hw, y2: hi[1] }, style: st },
              ],
            };
          },
        },
        {
          name: "Binned data",
          type: "line",
          data: binned,
          symbol: "circle",
          symbolSize: 34,
          showSymbol: true,
          itemStyle: { color: ORANGE, borderColor: "#4a2a1a", borderWidth: 1.5 },
          lineStyle: { color: "#D96A3A", width: 3, type: [14, 9] },
          silent: true,
          z: 3,
        },
        {
          name: "Best fit",
          type: "line",
          data: fitData,
          symbol: "none",
          lineStyle: { color: YELLOW, width: 7 },
          silent: true,
          z: 4,
        },
        {
          name: "y=x line",
          type: "line",
          data: idData,
          symbol: "none",
          lineStyle: { color: "#000", width: 7, type: [42, 46] },
          silent: true,
          z: 5,
        },
      ],
      graphic: [
        // partial frame of the neighbouring panel at the left edge
        {
          type: "polyline",
          shape: { points: [[0, 442], [3.5, 442], [3.5, 1716], [0, 1716]] },
          style: { stroke: "#8a8a8a", lineWidth: 3, fill: null },
          z: 10,
        },
        // panel letter
        {
          type: "text",
          x: 167,
          y: 140,
          style: {
            text: "C",
            fontSize: 165,
            lineHeight: 165,
            fontFamily: TITLE_FONT,
            fill: "#000",
            align: "center",
            verticalAlign: "middle",
            textAlign: "center",
            textVerticalAlign: "middle",
          },
        },
        // title (two lines)
        { type: "text", x: 1267, y: 87, scaleX: 1.15, style: titleStyle("Exponential growth") },
        { type: "text", x: 1267, y: 278, scaleX: 1.15, style: titleStyle("+ adder") },
        // x axis title
        {
          type: "text",
          x: 1226,
          y: 1948,
          style: {
            text: "{m|I}{s|d}{m|-I}{s|b}",
            fill: TXT,
            align: "center",
            verticalAlign: "middle",
            textAlign: "center",
            textVerticalAlign: "middle",
            rich: {
              m: { fontSize: 121, lineHeight: 121, fontFamily: SANS, fill: TXT },
              s: { fontSize: 98, lineHeight: 60, fontFamily: SANS, fill: TXT, padding: [116, 0, 0, 0] },
            },
          },
        },
        // y axis title
        {
          type: "text",
          x: 112,
          y: 1055,
          rotation: Math.PI / 2,
          style: {
            text: "{m|T}{s|d}{m| \u27E8\u03BB}{s|lin}{m|\u27E9}",
            fill: TXT,
            align: "center",
            verticalAlign: "middle",
            textAlign: "center",
            textVerticalAlign: "middle",
            rich: {
              m: { fontSize: 123, lineHeight: 123, fontFamily: SANS, fill: TXT },
              s: { fontSize: 103, lineHeight: 103, fontFamily: SANS, fill: TXT, padding: [136, 0, 0, 0] },
            },
          },
        },
        { type: "group", children: legendChildren, z: 20 },
      ],
    };

    chart.setOption(option);
    return () => {
      chart.dispose();
    };
  }, []);

  return (
    <div
      ref={ref}
      style={{ position: "absolute", left: 0, top: 0, width: 2016, height: 2062, background: "#fff" }}
    />
  );
}
